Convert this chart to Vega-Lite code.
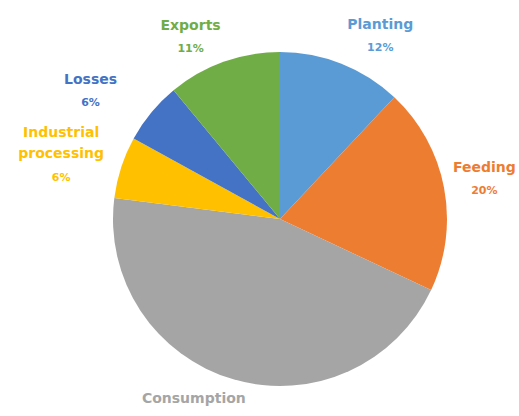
{
  "$schema": "https://vega.github.io/schema/vega-lite/v6.json",
  "width": 478,
  "height": 394,
  "autosize": {"type": "none"},
  "padding": {"left": 41, "top": 22, "right": 0, "bottom": 0},
  "background": "white",
  "config": {"view": {"stroke": null}},
  "data": {
    "values": [
      {"category": "Planting", "name": "Planting", "pct": "12%", "value": 12, "order": 1},
      {"category": "Feeding", "name": "Feeding", "pct": "20%", "value": 20, "order": 2},
      {"category": "Consumption", "name": "Consumption", "pct": "45%", "value": 45, "order": 3},
      {"category": "Industrial processing", "name": "Industrial\nprocessing", "pct": "6%", "value": 6, "order": 4},
      {"category": "Losses", "name": "Losses", "pct": "6%", "value": 6, "order": 5},
      {"category": "Exports", "name": "Exports", "pct": "11%", "value": 11, "order": 6}
    ]
  },
  "encoding": {
    "theta": {"field": "value", "type": "quantitative", "stack": true},
    "order": {"field": "order", "type": "quantitative"},
    "color": {
      "field": "category",
      "type": "nominal",
      "scale": {
        "domain": ["Planting", "Feeding", "Consumption", "Industrial processing", "Losses", "Exports"],
        "range": ["#5B9BD5", "#ED7D31", "#A5A5A5", "#FFC000", "#4472C4", "#70AD47"]
      },
      "legend": null
    }
  },
  "layer": [
    {"mark": {"type": "arc", "outerRadius": 167}},
    {
      "mark": {
        "type": "text", "baseline": "bottom", "lineBreak": "\n", "fontSize": 14, "fontWeight": "bold",
        "font": "DejaVu Sans", "lineHeight": 21,
        "radius": {"expr": "datum.category == 'Losses' ? 228 : datum.category == 'Industrial processing' ? 225 : datum.category == 'Consumption' ? 210 : datum.category == 'Exports' ? 202 : 208"},
        "thetaOffset": {"expr": "datum.category == 'Planting' ? 0.126 : datum.category == 'Consumption' ? 0.14 : datum.category == 'Exports' ? -0.113 : datum.category == 'Losses' ? -0.101 : datum.category == 'Industrial processing' ? -0.08 : 0"},
        "dy": {"expr": "datum.category == 'Industrial processing' ? -27 : -5"}
      },
      "encoding": {
        "text": {"field": "name"}
      }
    },
    {
      "mark": {
        "type": "text", "baseline": "top", "fontSize": 11, "fontWeight": "bold", "font": "DejaVu Sans", "dy": 5,
        "radius": {"expr": "datum.category == 'Losses' ? 228 : datum.category == 'Industrial processing' ? 225 : datum.category == 'Consumption' ? 210 : datum.category == 'Exports' ? 202 : 208"},
        "thetaOffset": {"expr": "datum.category == 'Planting' ? 0.126 : datum.category == 'Consumption' ? 0.14 : datum.category == 'Exports' ? -0.113 : datum.category == 'Losses' ? -0.101 : datum.category == 'Industrial processing' ? -0.08 : 0"}
      },
      "encoding": {
        "text": {"field": "pct"}
      }
    }
  ]
}
